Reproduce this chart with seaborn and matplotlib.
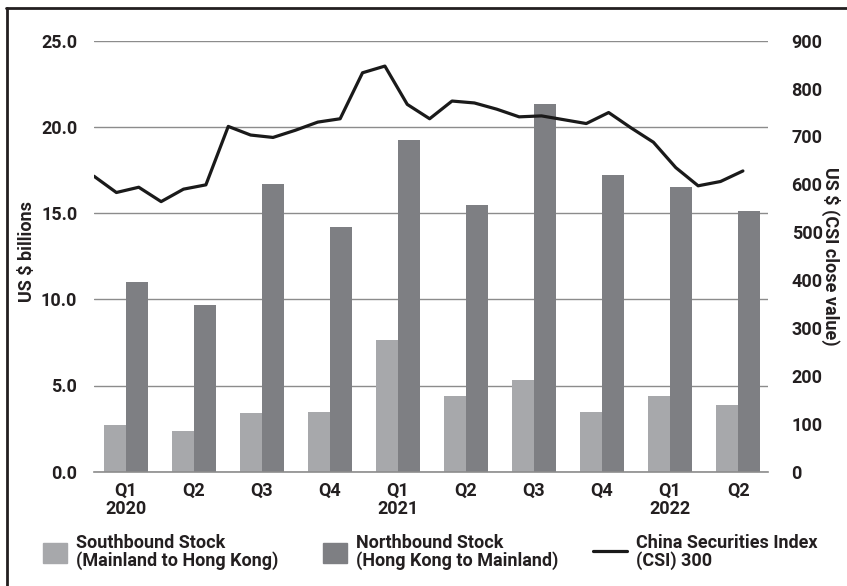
import numpy as np
import pandas as pd
import seaborn as sns
import matplotlib.pyplot as plt
from matplotlib.patches import Patch
from matplotlib.lines import Line2D

# quarterly flows, US $ billions
quarters = ["Q1\n2020", "Q2", "Q3", "Q4", "Q1\n2021", "Q2", "Q3", "Q4", "Q1\n2022", "Q2"]
southbound = [2.72, 2.36, 3.38, 3.45, 7.62, 4.38, 5.31, 3.44, 4.40, 3.84]
northbound = [10.98, 9.69, 16.71, 14.22, 19.25, 15.45, 21.30, 17.21, 16.53, 15.13]

# monthly CSI 300 close, Jan 2020 .. Jun 2022
csi_close = [617, 583, 594, 564, 590, 599, 721, 703, 698, 713, 730, 737,
             833, 847, 767, 737, 774, 770, 757, 741, 743, 735, 727, 750,
             718, 688, 635, 597, 606, 628]

labels = ["Southbound Stock\n(Mainland to Hong Kong)",
          "Northbound Stock\n(Hong Kong to Mainland)",
          "China Securities Index\n(CSI) 300"]
colors = ["#a7a8ab", "#7e7f83"]

df = pd.DataFrame({
    "pos": list(range(len(quarters))) * 2,
    "value": southbound + northbound,
    "series": [labels[0]] * len(quarters) + [labels[1]] * len(quarters),
})

sns.set_style("white")
plt.rcParams["font.family"] = ["Roboto", "DejaVu Sans"]
plt.rcParams["font.weight"] = "bold"
txt = "#231f20"
fs = 13

fig = plt.figure(figsize=(8.47, 5.86), dpi=100)
ax = fig.add_axes([94 / 847, 1 - 471.7 / 586, 674 / 847, 431 / 586])

sns.barplot(data=df, x="pos", y="value", hue="series", palette=colors,
            width=0.65, gap=0, dodge=True, saturation=1, legend=False, ax=ax,
            native_scale=True, linewidth=0)
ax.set_ylim(0, 25)
ax.set_xlim(-0.47, 9.44)
ax.set_yticks([0, 5, 10, 15, 20, 25])
ax.set_yticklabels(["%.1f" % v for v in [0, 5, 10, 15, 20, 25]], fontweight="bold")
ax.set_xticks(range(len(quarters)))
ax.set_xticklabels(quarters, linespacing=1.05, fontweight="bold")
ax.grid(axis="y", color="#8c8c8c", linewidth=1.0)
ax.set_axisbelow(True)
for s in ["left", "right", "top"]:
    ax.spines[s].set_visible(False)
ax.spines["bottom"].set_color("#8c8c8c")
ax.spines["bottom"].set_linewidth(1.2)
ax.tick_params(axis="y", length=0, pad=12, labelsize=fs, labelcolor=txt)
ax.tick_params(axis="x", length=0, pad=7, labelsize=fs, labelcolor=txt)
ax.set_xlabel("")
ax.set_ylabel("US $ billions", fontsize=fs, fontweight="bold", color=txt,
              ha="center", va="center")
ax.yaxis.set_label_coords((27 - 94) / 674, 0.51)

ax2 = ax.twinx()
month_pos = -0.47 + np.arange(len(csi_close)) * 0.329
sns.lineplot(x=month_pos, y=csi_close, color="#1a1a1a", linewidth=2.3, ax=ax2)
ax2.set_ylim(0, 900)
ax2.set_yticks(range(0, 1000, 100))
ax2.set_yticklabels([str(v) for v in range(0, 1000, 100)], fontweight="bold")
ax2.set_xlim(-0.47, 9.44)
for s in ["left", "right", "top", "bottom"]:
    ax2.spines[s].set_visible(False)
ax2.tick_params(axis="y", length=0, pad=17, labelsize=fs, labelcolor=txt)
ax2.set_ylabel("US $ (CSI close value)", fontsize=fs, fontweight="bold",
               color=txt, rotation=-90, ha="center", va="center")
ax2.yaxis.set_label_coords((831 - 94) / 674, 0.5)

# one legend box per entry, placed under the chart
handles = [Patch(color=colors[0]), Patch(color=colors[1]),
           Line2D([], [], color="#1a1a1a", linewidth=2.3)]
leg_x = [43, 323, 593]
leg_len = [1.33, 1.33, 1.88]
for h, lab, x0, hl in zip(handles, labels, leg_x, leg_len):
    leg = fig.legend([h], [lab], loc="center left", bbox_to_anchor=(x0 / 847, 1 - 552 / 586),
                     frameon=False, fontsize=fs, handlelength=hl, handleheight=1.28,
                     handletextpad=0.5, borderpad=0, borderaxespad=0)
    for t in leg.get_texts():
        t.set_color(txt)
        t.set_fontweight("bold")
        t.set_linespacing(1.0)

# crop frame on the left and top
fig.add_artist(Line2D([6.5 / 847, 6.5 / 847], [0, 1 - 7.5 / 586], color="#231f20",
                      linewidth=2, transform=fig.transFigure))
fig.add_artist(Line2D([5.5 / 847, 1], [1 - 7.5 / 586, 1 - 7.5 / 586], color="#231f20",
                      linewidth=2, transform=fig.transFigure))

fig.savefig("out.png", dpi=100)
